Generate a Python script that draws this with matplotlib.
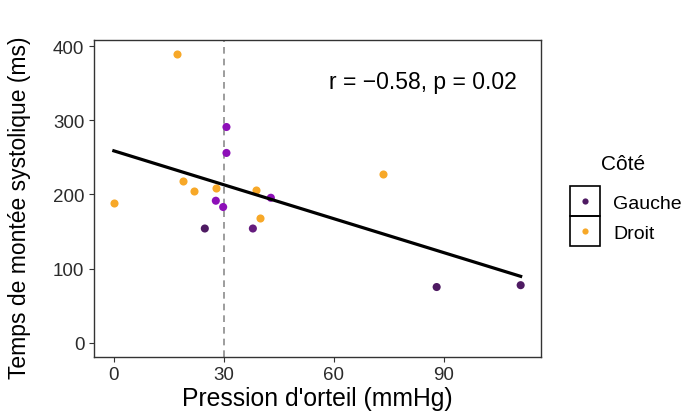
import numpy as np
import matplotlib
matplotlib.use("Agg")
import matplotlib.pyplot as plt
from matplotlib.patches import Rectangle

plt.rcParams['font.family'] = ['Liberation Sans', 'DejaVu Sans']

# toe pressure (mmHg) vs systolic rise time (ms), split by side
gauche_x = [30.7, 30.7, 42.8, 27.8, 29.8, 24.8, 37.9, 88.0, 110.9]
gauche_y = [291, 256, 195.5, 191.5, 183, 154, 154, 75, 77.5]
droit_x = [17.1, 18.9, 21.9, 27.8, 38.7, 0.0, 39.8, 73.4]
droit_y = [389, 218.5, 205, 209, 206, 189, 168.5, 228]
seuil = 30
stat_label = "r = \u22120.58, p = 0.02"

x_ticks = [0, 30, 60, 90]
y_ticks = [0, 100, 200, 300, 400]

purple = "#8d0fb8"
purple_dark = "#4e1a62"
orange = "#f7a828"
gauche_cols = [purple] * 5 + [purple_dark, "#651c7e", purple_dark, purple_dark]

fig = plt.figure(figsize=(6.91, 4.14), dpi=100)
ax = fig.add_axes([93.5 / 691, 56 / 414, (541 - 93.5) / 691, (358 - 41) / 414])

all_x = np.array(gauche_x + droit_x)
all_y = np.array(gauche_y + droit_y)
slope, icpt = np.polyfit(all_x, all_y, 1)
xs = np.array([all_x.min(), all_x.max()])

ax.axvline(seuil, color="#8c8c8c", ls=(0, (4, 3)), lw=1.2, zorder=1)
ax.scatter(droit_x, droit_y, s=34, color=orange, zorder=3, linewidths=0)
ax.scatter(gauche_x, gauche_y, s=34, c=gauche_cols, zorder=3, linewidths=0)
ax.plot(xs, icpt + slope * xs, color="black", lw=2.3, zorder=4)

xr = all_x.max() - all_x.min()
ax.set_xlim(all_x.min() - 0.05 * xr, all_x.max() + 0.05 * xr)
ax.set_ylim(-0.05 * max(all_y), max(all_y) * 1.05)
ax.set_xticks(x_ticks)
ax.set_yticks(y_ticks)
ax.tick_params(labelsize=13.5, length=3.5, width=0.8, color="#333333", labelcolor="#2b2b2b", pad=3)
for sp in ax.spines.values():
    sp.set_linewidth(1.0)
    sp.set_color("#333333")

ax.set_xlabel("Pression d'orteil (mmHg)", fontsize=17.8, labelpad=2)
ax.set_ylabel("Temps de montée systolique (ms)", fontsize=16.5)
ax.yaxis.set_label_coords(-0.14, 0.475)
ax.text(0.735, 0.87, stat_label, transform=ax.transAxes, ha="center", va="center", fontsize=16.5)

# legend drawn by hand, ggplot style
fig.text(623 / 691, 1 - 165 / 414, "Côté", ha="center", va="center", fontsize=15)
lax = fig.add_axes([570 / 691, 1 - 247 / 414, 30 / 691, 60 / 414])
lax.set_xlim(0, 1)
lax.set_ylim(0, 2)
lax.axis("off")
for i, col in enumerate([purple_dark, orange]):
    lax.add_patch(Rectangle((0, 1 - i), 1, 1, fill=False, ec="black", lw=1.2, clip_on=False))
    lax.scatter([0.5], [1.5 - i], s=20, color=col, linewidths=0)
fig.text(613 / 691, 1 - 205 / 414, "Gauche", ha="left", va="center", fontsize=14)
fig.text(613 / 691, 1 - 235 / 414, "Droit", ha="left", va="center", fontsize=14)

fig.savefig("out.png", dpi=100)
